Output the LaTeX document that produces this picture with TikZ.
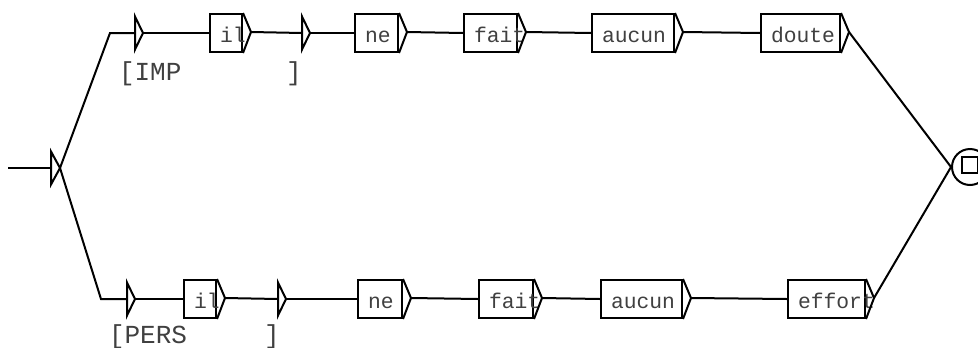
\documentclass[tikz,border=0pt]{standalone}
\usepackage{fontspec}
\setmonofont{Liberation Mono}
\usepackage{tikz}
\usepackage{xcolor}

\begin{document}
\begin{tikzpicture}[x=0.75pt, y=-0.75pt, line width=1.5pt,
    boite/.style={draw, rectangle, inner sep=0pt, minimum height=28.5pt},
    mot/.style={font=\ttfamily\fontsize{16}{18}\selectfont, text=black!75, inner sep=0pt},
    sortie/.style={font=\ttfamily\fontsize{19.5}{22}\selectfont, text=black!75, inner sep=0pt, anchor=base west}]
    \useasboundingbox (0,0) rectangle (978,347);
    % etat initial
    \coordinate (entree) at (8,168);
    \coordinate (init) at (51,168);
    \draw (init) ++(0,-16.5) -- ++(9,16.5) coordinate (init-o) -- ++(-9,16.5) -- cycle;
    \draw (entree) -- (init);
    % etat final
    \node[draw, circle, minimum size=36*0.75pt, inner sep=0pt] (fin) at (970,167) {};
    \draw ([shift={(-8,-10)}]fin.center) rectangle ++(16,16);
    % boites vides
    \foreach \nom/\cx/\cy in {hv1/135/33, hv2/302/33, bv1/127/299, bv2/278/299}
    {
        \coordinate (\nom) at (\cx,\cy);
        \draw (\nom) ++(0,-16.5) -- ++(8,16.5) coordinate (\nom-o) -- ++(-8,16.5) -- cycle;
    }
    % boites
    \foreach \nom/\cx/\cy/\w/\mot in {hil/226/33/32/il, hne/376.5/33/43/ne, hfait/490.5/33/53/fait,
        haucun/633/33/82/aucun, hdoute/800.5/33/79/doute,
        bil/200/299/32/il, bne/380/299/44/ne, bfait/506/299/54/fait,
        baucun/641.5/299/81/aucun, beffort/826.5/299/77/effort}
    {
        \node[boite, minimum width=\w*0.75pt] (\nom) at (\cx,\cy) {};
        \node[mot, anchor=base west] (\nom-t) at ([shift={(10,9)}]\nom.west) {\mot};
        \draw (\nom.north east) -- ++(8,19) coordinate (\nom-o) -- (\nom.south east);
    }
    % sorties
    \node[sortie] (himp) at (118,80) {[IMP};
    \node[sortie] (hferme) at (285,80) {]};
    \node[sortie] (bpers) at (108,343) {[PERS};
    \node[sortie] (bferme) at (263,343) {]};
    % transitions
    \draw (init-o) -- ([shift={(-25,0)}]hv1) -- (hv1);
    \draw (init-o) -- ([shift={(-26,0)}]bv1) -- (bv1);
    \draw (hv1-o) -- (hil.west);
    \draw (hil-o) -- (hv2);
    \draw (hv2-o) -- (hne.west);
    \draw (hne-o) -- (hfait.west);
    \draw (hfait-o) -- (haucun.west);
    \draw (haucun-o) -- (hdoute.west);
    \draw (hdoute-o) -- (fin.west);
    \draw (bv1-o) -- (bil.west);
    \draw (bil-o) -- (bv2);
    \draw (bv2-o) -- (bne.west);
    \draw (bne-o) -- (bfait.west);
    \draw (bfait-o) -- (baucun.west);
    \draw (baucun-o) -- (beffort.west);
    \draw (beffort-o) -- (fin.west);
\end{tikzpicture}
\end{document}
